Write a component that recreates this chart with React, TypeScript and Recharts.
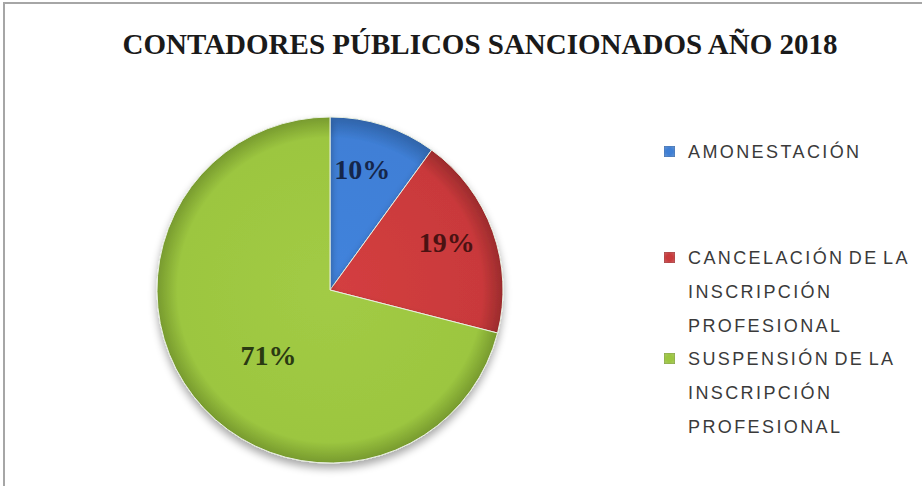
import React from 'react';
import { PieChart, Pie, Cell, Legend } from 'recharts';

const categories = [
  'AMONESTACIÓN',
  'CANCELACIÓN DE LA INSCRIPCIÓN PROFESIONAL',
  'SUSPENSIÓN DE LA INSCRIPCIÓN PROFESIONAL',
];
const legendLines = [
  ['AMONESTACIÓN'],
  ['CANCELACIÓN DE LA', 'INSCRIPCIÓN', 'PROFESIONAL'],
  ['SUSPENSIÓN DE LA', 'INSCRIPCIÓN', 'PROFESIONAL'],
];
const percentages = [10, 19, 71];
const labelTexts = ['10%', '19%', '71%'];
const title = 'CONTADORES PÚBLICOS SANCIONADOS AÑO 2018';

const gradIds = ['gBlue', 'gRed', 'gGreen'];
const labelColors = ['#15264a', '#4a1212', '#2a3912'];
const legendColors = ['#3f7fd4', '#c83a3c', '#9cc640'];

const data = categories.map((name, i) => ({ name, value: percentages[i] }));

const CX = 330;
const CY = 290;
const R = 173;

const labelRadius = [0.72, 0.73, 0.52];
const labelAngleNudge = [3, 2.5, 9];

const RAD = Math.PI / 180;

const renderLabel = (props: any) => {
  const { cx, cy, midAngle, outerRadius, index } = props;
  const a = (midAngle + labelAngleNudge[index]) * RAD;
  const r = outerRadius * labelRadius[index];
  const x = cx + r * Math.cos(-a);
  const y = cy + r * Math.sin(-a);
  return (
    <text
      x={x}
      y={y}
      textAnchor="middle"
      dominantBaseline="central"
      fill={labelColors[index]}
      style={{ fontFamily: '"Liberation Serif", "Times New Roman", serif', fontWeight: 700, fontSize: 28 }}
    >
      {labelTexts[index]}
    </text>
  );
};

const renderLegend = () => (
  <div
    style={{
      fontFamily: '"Liberation Sans", Arial, sans-serif',
      fontSize: 18,
      color: '#3a3a3a',
      letterSpacing: 2.4,
      wordSpacing: -3,
    }}
  >
    {legendLines.map((lines, i) => (
      <div key={i} style={{ position: 'absolute', left: 0, top: [0, 106, 207][i], width: 250 }}>
        {lines.map((ln, j) => (
          <div key={j} style={{ height: 34, lineHeight: '24px', position: 'relative', paddingLeft: 24, whiteSpace: 'nowrap' }}>
            {j === 0 && (
              <span
                style={{
                  position: 'absolute',
                  left: 0,
                  top: 6,
                  width: 11,
                  height: 11,
                  background: `radial-gradient(circle, ${legendColors[i]} 40%, ${legendColors[i]}bb 100%)`,
                  boxShadow: 'inset 0 0 2px rgba(0,0,0,0.45)',
                }}
              />
            )}
            {ln}
          </div>
        ))}
      </div>
    ))}
  </div>
);

export default function App() {
  return (
    <div style={{ position: 'absolute', left: 0, top: 0, width: 922, height: 486, background: '#ffffff' }}>
      <div
        style={{
          position: 'absolute',
          left: 3,
          top: 2,
          width: 930,
          height: 500,
          borderTop: '2px solid #a6a6a6',
          borderLeft: '2px solid #a6a6a6',
        }}
      />
      <svg width={0} height={0} style={{ position: 'absolute' }}>
        <defs>
          <radialGradient id="gBlue" gradientUnits="userSpaceOnUse" cx={CX} cy={CY} r={R}>
            <stop offset="0%" stopColor="#4283dc" />
            <stop offset="88%" stopColor="#3f7fd6" />
            <stop offset="100%" stopColor="#2f63a8" />
          </radialGradient>
          <radialGradient id="gRed" gradientUnits="userSpaceOnUse" cx={CX} cy={CY} r={R}>
            <stop offset="0%" stopColor="#d43f40" />
            <stop offset="88%" stopColor="#c9393b" />
            <stop offset="100%" stopColor="#9a2b2c" />
          </radialGradient>
          <radialGradient id="gGreen" gradientUnits="userSpaceOnUse" cx={CX} cy={CY} r={R}>
            <stop offset="0%" stopColor="#a2cb45" />
            <stop offset="88%" stopColor="#9cc640" />
            <stop offset="100%" stopColor="#779a2e" />
          </radialGradient>
          <filter id="pieShadow" x="-20%" y="-20%" width="140%" height="150%">
            <feGaussianBlur in="SourceAlpha" stdDeviation="4" />
            <feOffset dx="0" dy="5" result="off" />
            <feComponentTransfer>
              <feFuncA type="linear" slope="0.35" />
            </feComponentTransfer>
            <feMerge>
              <feMergeNode />
              <feMergeNode in="SourceGraphic" />
            </feMerge>
          </filter>
        </defs>
      </svg>
      <div
        style={{
          position: 'absolute',
          left: 0,
          top: 28,
          width: 960,
          textAlign: 'center',
          fontFamily: '"Liberation Serif", "Times New Roman", serif',
          fontWeight: 700,
          fontSize: 29,
          color: '#1a1a1a',
          whiteSpace: 'nowrap',
        }}
      >
        {title}
      </div>
      <PieChart
        width={922}
        height={486}
        margin={{ top: 0, right: 0, bottom: 0, left: 0 }}
        style={{ position: 'absolute', left: 0, top: 0 }}
      >
        <Pie
          data={data}
          dataKey="value"
          nameKey="name"
          cx={CX}
          cy={CY}
          outerRadius={R}
          startAngle={90}
          endAngle={-270}
          isAnimationActive={false}
          label={renderLabel}
          labelLine={false}
          stroke="#e8efe0"
          strokeWidth={1}
          style={{ filter: 'url(#pieShadow)' }}
        >
          {data.map((d, i) => (
            <Cell key={d.name} fill={`url(#${gradIds[i]})`} />
          ))}
        </Pie>
        <Legend
          content={renderLegend}
          layout="vertical"
          wrapperStyle={{ position: 'absolute', left: 664, top: 140, width: 250, height: 310 }}
        />
      </PieChart>
    </div>
  );
}
